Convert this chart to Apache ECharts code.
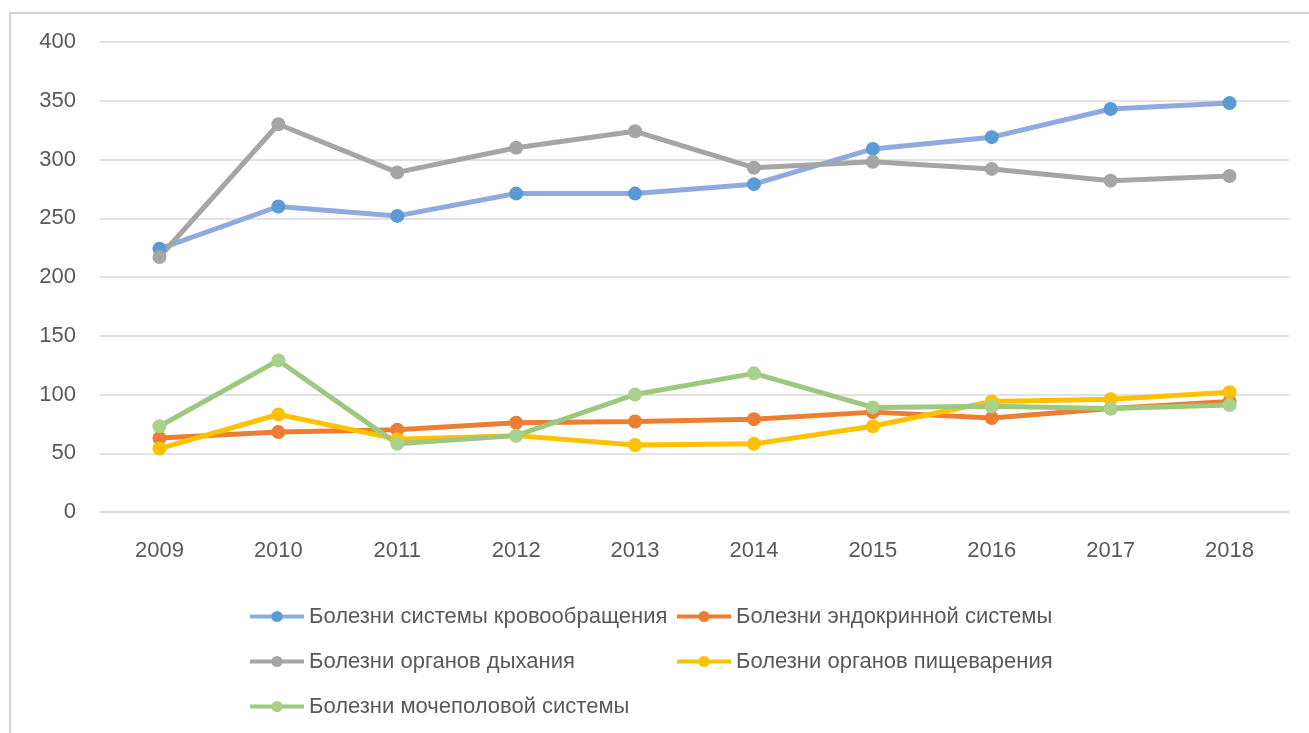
<!DOCTYPE html>
<html>
<head>
<meta charset="utf-8">
<script src="https://cdn.jsdelivr.net/npm/echarts@6/dist/echarts.min.js"></script>
<style>
  html, body { margin: 0; padding: 0; background: #fff; }
  #chart { width: 1309px; height: 733px; }
</style>
</head>
<body>
<div id="chart"></div>
<script>
  // годы и значения по группам болезней
  var years = ['2009', '2010', '2011', '2012', '2013', '2014', '2015', '2016', '2017', '2018'];
  var krovoobr = [224, 260, 252, 271, 271, 279, 309, 319, 343, 348];
  var endokrin = [63, 68, 70, 76, 77, 79, 85, 80, 88, 94];
  var dyhanie = [217, 330, 289, 310, 324, 293, 298, 292, 282, 286];
  var pischevar = [54, 83, 62, 65, 57, 58, 73, 94, 96, 102];
  var mochepol = [73, 129, 58, 65, 100, 118, 89, 90, 88, 91];
  var yTicks = [0, 50, 100, 150, 200, 250, 300, 350, 400];

  var font = '"Liberation Sans", Arial, sans-serif';

  function line(name, data, lineColor, dotColor) {
    return {
      name: name,
      type: 'line',
      data: data,
      symbol: 'circle',
      symbolSize: 14,
      lineStyle: { color: lineColor, width: 5 },
      itemStyle: { color: dotColor },
      emphasis: { disabled: true },
      animation: false
    };
  }

  var chart = echarts.init(document.getElementById('chart'));
  chart.setOption({
    backgroundColor: '#fff',
    graphic: [{
      type: 'rect',
      shape: { x: 10, y: 13, width: 1400, height: 800 },
      style: { fill: 'none', stroke: '#d4d4d4', lineWidth: 2 },
      silent: true
    }],
    grid: { left: 100, right: 20, top: 42, bottom: 221 },
    xAxis: {
      type: 'category',
      data: years,
      axisTick: { show: false },
      axisLine: { lineStyle: { color: '#d9d9d9', width: 1.5 } },
      axisLabel: { color: '#595959', fontSize: 22, fontFamily: font, margin: 28 }
    },
    yAxis: {
      type: 'value',
      min: yTicks[0],
      max: yTicks[yTicks.length - 1],
      interval: 50,
      axisLine: { show: false },
      axisTick: { show: false },
      splitLine: { lineStyle: { color: '#d9d9d9', width: 1.5 } },
      axisLabel: { color: '#595959', fontSize: 22, fontFamily: font, margin: 24 }
    },
    legend: {
      left: 248,
      top: 594,
      width: 860,
      padding: 0,
      itemGap: 0,
      itemWidth: 54,
      itemHeight: 14,
      selectedMode: false,
      lineStyle: { width: 4 },
      textStyle: { color: '#595959', fontSize: 22, fontFamily: font, lineHeight: 45, width: 366 }
    },
    series: [
      line('Болезни системы кровообращения', krovoobr, '#8FAADC', '#5B9BD5'),
      line('Болезни эндокринной системы', endokrin, '#ED7D31', '#ED7D31'),
      line('Болезни органов дыхания', dyhanie, '#A5A5A5', '#A5A5A5'),
      line('Болезни органов пищеварения', pischevar, '#FFC000', '#FFC000'),
      line('Болезни мочеполовой системы', mochepol, '#9DC87F', '#A9D18E')
    ]
  });
</script>
</body>
</html>
